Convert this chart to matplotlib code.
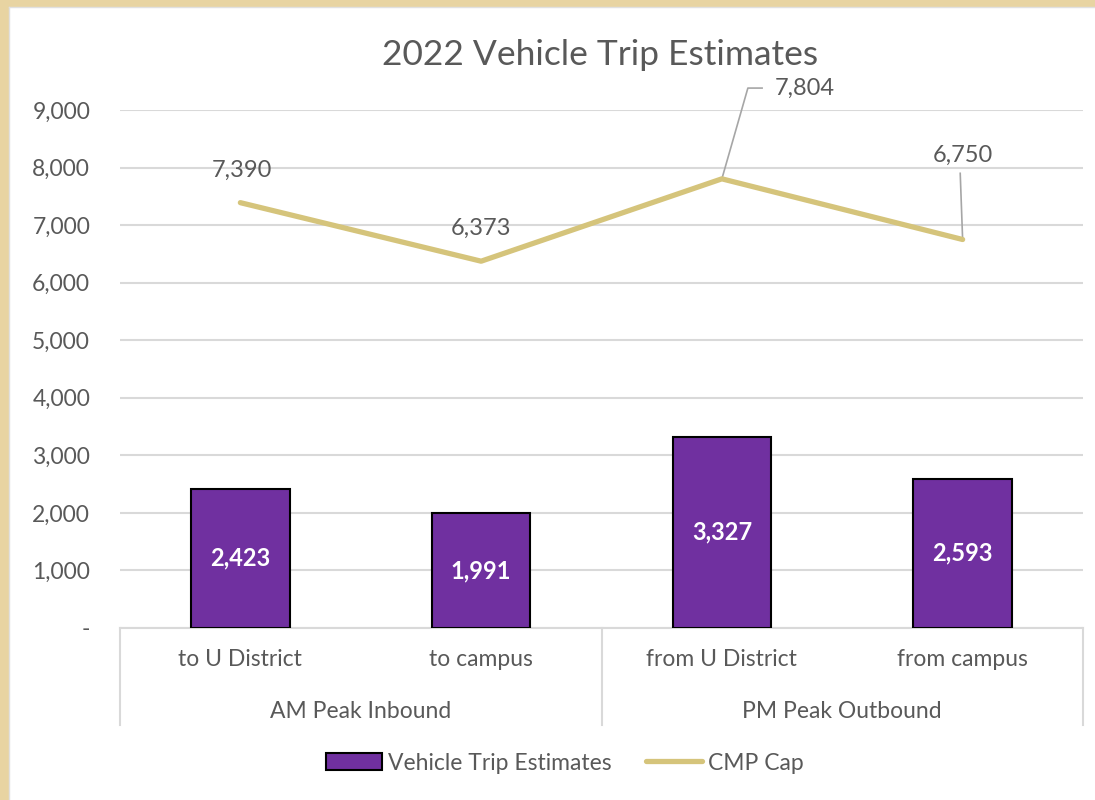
import matplotlib.pyplot as plt
from matplotlib.patches import Rectangle, Patch
from matplotlib.lines import Line2D

categories = ["to U District", "to campus", "from U District", "from campus"]
groups = ["AM Peak Inbound", "PM Peak Outbound"]
trips = [2423, 1991, 3327, 2593]
cmp_cap = [7390, 6373, 7804, 6750]
yticks = [0, 1000, 2000, 3000, 4000, 5000, 6000, 7000, 8000, 9000]

purple = "#7030A0"
gold = "#D5C47B"
grey_text = "#595959"
grid_c = "#D9D9D9"
fs = 16.5

plt.rcParams['font.family'] = ['Lato', 'DejaVu Sans']

W, H = 1095, 800
fig = plt.figure(figsize=(W / 100, H / 100), dpi=100)
fig.patch.set_facecolor("white")

# tan frame on left and top edges
fig.add_artist(Rectangle((0, 0), 8 / W, 1, transform=fig.transFigure, color="#E8D4A2", zorder=0))
fig.add_artist(Rectangle((0, 1 - 6 / H), 1, 6 / H, transform=fig.transFigure, color="#E8D4A2", zorder=0))
fig.add_artist(Line2D([9 / W, 9 / W], [0, 1 - 7 / H], transform=fig.transFigure, color="#E0E0E0", lw=1))
fig.add_artist(Line2D([9 / W, 1], [1 - 7 / H, 1 - 7 / H], transform=fig.transFigure, color="#E0E0E0", lw=1))

left, right, top, bottom = 120, 1083, 110, 628
ax = fig.add_axes([left / W, 1 - bottom / H, (right - left) / W, (bottom - top) / H])

x = list(range(len(categories)))
ax.bar(x, trips, width=0.41, color=purple, edgecolor="black", linewidth=1.5, zorder=3)
ax.plot(x, cmp_cap, color=gold, lw=3.8, zorder=4, solid_capstyle="round")

ax.set_xlim(-0.5, 3.5)
ax.set_ylim(0, 9000)
ax.set_yticks(yticks)
ax.set_yticklabels(["-"] + [f"{v:,}" for v in yticks[1:]])
ax.tick_params(axis="y", length=0, pad=21.5, labelsize=fs, labelcolor=grey_text)
ax.set_xticks([])
ax.grid(axis="y", color=grid_c, lw=1.5, zorder=0)
for s in ["left", "right", "top"]:
    ax.spines[s].set_visible(False)
ax.spines["bottom"].set_color(grid_c)
ax.spines["bottom"].set_linewidth(1.5)

# bar value labels
for xi, v in zip(x, trips):
    ax.text(xi, v / 2, f"{v:,}", ha="center", va="center", color="white",
            fontsize=17, fontweight="bold", zorder=5)

# line value labels
lab_pos = [(0.007, 7957), (1.0, 6950), (2.345, 9381), (3.0, 8218)]
for (lx, ly), v in zip(lab_pos, cmp_cap):
    ax.text(lx, ly, f"{v:,}", ha="center", va="center", color=grey_text,
            fontsize=17, clip_on=False)
ax.plot([2.0, 2.108, 2.167], [cmp_cap[2], 9381, 9381], color="#A6A6A6", lw=1.2,
        zorder=2, clip_on=False)
ax.plot([2.99, 3.0], [7900, cmp_cap[3]], color="#A6A6A6", lw=1.2, zorder=2)

# multi-level category axis
tr = ax.get_xaxis_transform()
lvl_bottom = -(725 - bottom) / (bottom - top)
for xv in [-0.5, 1.5, 3.5]:
    ax.plot([xv, xv], [0, lvl_bottom], color=grid_c, lw=1.5, transform=tr, clip_on=False)
for xi, c in zip(x, categories):
    ax.text(xi, -(660 - bottom) / (bottom - top), c, transform=tr, ha="center", va="center",
            fontsize=fs, color=grey_text)
for gi, g in enumerate(groups):
    ax.text(0.5 + 2 * gi, -(711 - bottom) / (bottom - top), g, transform=tr, ha="center",
            va="center", fontsize=fs, color=grey_text)

fig.text(600 / W, 1 - 55 / H, "2022 Vehicle Trip Estimates", ha="center", va="center",
         fontsize=25.5, color=grey_text)

handles = [Patch(facecolor=purple, edgecolor="black", linewidth=1.5),
           Line2D([0], [0], color=gold, lw=3.8, solid_capstyle="round")]
fig.legend(handles, ["Vehicle Trip Estimates", "CMP Cap"], loc="center",
           bbox_to_anchor=(565 / W, 1 - 763 / H), ncol=2, frameon=False, fontsize=fs,
           labelcolor=grey_text, handlelength=2.45, handletextpad=0.25, columnspacing=1.5,
           handleheight=0.7)

fig.savefig("out.png", dpi=100)
